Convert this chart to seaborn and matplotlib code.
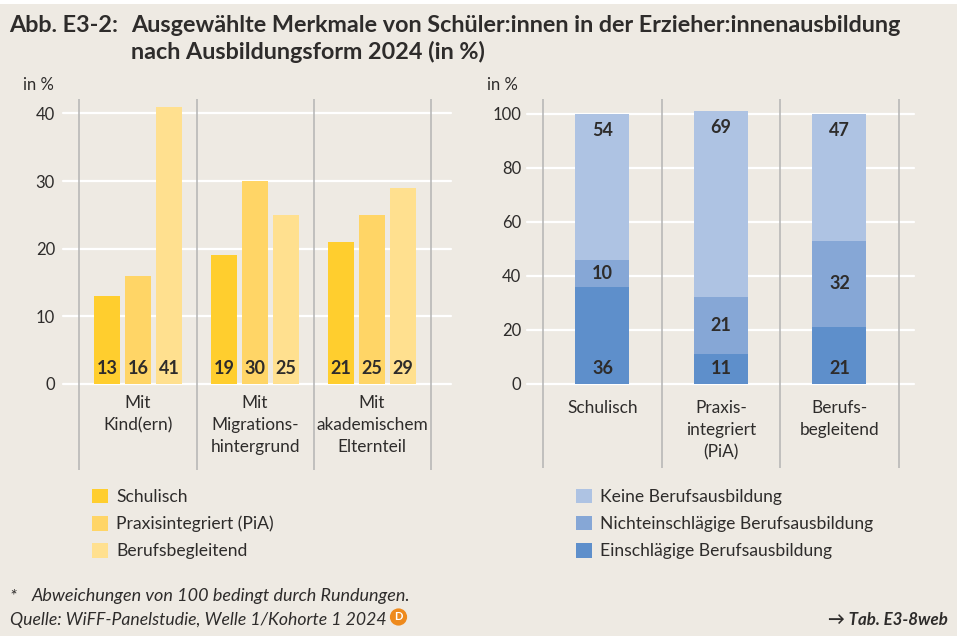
import pandas as pd
import seaborn as sns
import matplotlib.pyplot as plt
from matplotlib.patches import Patch, Rectangle

# left chart
left_groups = ["Mit\nKind(ern)", "Mit\nMigrations-\nhintergrund", "Mit\nakademischem\nElternteil"]
left_forms = ["Schulisch", "Praxisintegriert (PiA)", "Berufsbegleitend"]
schulisch = [13, 19, 21]
praxis = [16, 30, 25]
berufsbegl = [41, 25, 29]
left_colors = ["#FFCE2E", "#FFD566", "#FFE08F"]

# right chart
right_groups = ["Schulisch", "Praxis-\nintegriert\n(PiA)", "Berufs-\nbegleitend"]
right_forms = ["Keine Berufsausbildung", "Nichteinschlägige Berufsausbildung", "Einschlägige Berufsausbildung"]
keine = [54, 69, 47]
nicht = [10, 21, 32]
einschl = [36, 11, 21]
right_colors = ["#AEC3E3", "#86A7D6", "#5E8FCB"]

W, H = 957, 636
BG = "#EEEAE3"
TXT = "#2E2C2B"
VLINE = "#B4B4B4"
FONT = "Lato"

sns.set_theme(style="white")
plt.rcParams["font.family"] = [FONT, "DejaVu Sans"]


def px_axes(fig, x0, x1, y0, y1):
    return fig.add_axes([x0 / W, 1 - y1 / H, (x1 - x0) / W, (y1 - y0) / H])


def style_axes(ax, yticks, xpad, ypad, vline_bottom):
    ax.set_facecolor("none")
    for s in ax.spines.values():
        s.set_visible(False)
    ax.set_yticks(yticks)
    ax.set_xlabel("")
    ax.set_ylabel("")
    ax.set_axisbelow(True)
    ax.yaxis.grid(True, color="white", linewidth=1.6)
    ax.xaxis.grid(False)
    for gl in ax.get_ygridlines():
        gl.set_clip_on(False)
    ax.tick_params(axis="y", length=0, labelsize=12, labelcolor=TXT, pad=ypad)
    ax.tick_params(axis="x", length=0, labelsize=12.4, labelcolor=TXT, pad=xpad)
    for lab in ax.get_xticklabels():
        lab.set_linespacing(1.45)
    ax.vlines([-0.5, 0.5, 1.5, 2.5], vline_bottom, ax.get_ylim()[1], color=VLINE, linewidth=1.1,
              zorder=1.5, clip_on=False)


def add_legend(ax, colors, labels, x_px):
    handles = [Patch(facecolor=c, edgecolor="none") for c in colors]
    ax.legend(handles, labels, loc="upper left", frameon=False,
              bbox_to_anchor=(x_px / W, 1 - 488.5 / H), bbox_transform=fig.transFigure,
              fontsize=12.6, labelcolor=TXT, handlelength=0.91, handleheight=0.91,
              handletextpad=0.46, labelspacing=0.62, borderpad=0, borderaxespad=0)


fig = plt.figure(figsize=(W / 100, H / 100), dpi=100, facecolor="white")
fig.add_artist(Rectangle((0, 0), 1, 1 - 4 / H, transform=fig.transFigure, facecolor=BG, edgecolor="none", zorder=-5))

# left: grouped bars
ax1 = px_axes(fig, 63, 451, 99, 384)
df1 = pd.DataFrame({
    "group": left_groups * 3,
    "form": [left_forms[0]] * 3 + [left_forms[1]] * 3 + [left_forms[2]] * 3,
    "value": schulisch + praxis + berufsbegl,
})
sns.barplot(data=df1, x="group", y="value", hue="form", order=left_groups, hue_order=left_forms,
            palette=left_colors, width=0.795, gap=0.16, saturation=1, legend=False, linewidth=0,
            ax=ax1, zorder=2)
ax1.set_xlim(-0.641, 2.675)
ax1.set_ylim(0, 42.13)
style_axes(ax1, [0, 10, 20, 30, 40], 8.2, 5.8, -12.72)
for cont in ax1.containers:
    for bar in cont:
        ax1.annotate(f"{bar.get_height():.0f}", (bar.get_x() + bar.get_width() / 2, 0),
                     xytext=(0, 11.5), textcoords="offset points", ha="center", va="center",
                     fontsize=13, fontweight="bold", color=TXT, zorder=3)
add_legend(ax1, left_colors, left_forms, 92)

# right: stacked bars, back to front
ax2 = px_axes(fig, 527, 914, 99, 384)
layers = [keine, nicht, einschl]
bases = [[a + b for a, b in zip(nicht, einschl)], einschl, [0, 0, 0]]
for vals, base, col in zip(layers, bases, right_colors):
    tops = [v + b for v, b in zip(vals, base)]
    sns.barplot(x=right_groups, y=tops, order=right_groups, color=col, width=0.456,
                saturation=1, linewidth=0, ax=ax2, zorder=2)
ax2.set_xlim(-0.637, 2.629)
ax2.set_ylim(0, 105.4)
style_axes(ax2, [0, 20, 40, 60, 80, 100], 11.7, 4.3, -31)
for i in range(3):
    ax2.annotate(str(keine[i]), (i, keine[i] + bases[0][i]), xytext=(0, -12), textcoords="offset points",
                 ha="center", va="center", fontsize=13, fontweight="bold", color=TXT, zorder=3)
    ax2.annotate(str(nicht[i]), (i, bases[1][i] + nicht[i] / 2), ha="center", va="center",
                 fontsize=13, fontweight="bold", color=TXT, zorder=3)
    ax2.annotate(str(einschl[i]), (i, 0), xytext=(0, 11), textcoords="offset points",
                 ha="center", va="center", fontsize=13, fontweight="bold", color=TXT, zorder=3)
add_legend(ax2, right_colors, right_forms, 576)


def ftext(x, y, s, **kw):
    kw.setdefault("color", TXT)
    kw.setdefault("va", "center")
    return fig.text(x / W, 1 - y / H, s, **kw)


# title
ftext(9, 26, "Abb. E3-2:", fontsize=16.8, fontweight="bold")
ftext(131, 26, "Ausgewählte Merkmale von Schüler:innen in der Erzieher:innenausbildung", fontsize=16.8, fontweight="bold")
ftext(131, 52, "nach Ausbildungsform 2024 (in %)", fontsize=16.8, fontweight="bold")

ftext(23, 85, "in %", fontsize=12)
ftext(487, 85, "in %", fontsize=12)

# footer
ftext(10, 596, "*", fontsize=12.8, style="italic")
ftext(32, 596, "Abweichungen von 100 bedingt durch Rundungen.", fontsize=12.95, style="italic")
ftext(10, 620, "Quelle: WiFF-Panelstudie, Welle 1/Kohorte 1 2024", fontsize=12.7, style="italic")
ftext(398.5, 617, "D", fontsize=8, fontweight="bold", color="white", ha="center",
      bbox=dict(boxstyle="circle,pad=0.28", facecolor="#EE8A1D", edgecolor="none"))
ftext(948, 620, "→ Tab. E3-8web", fontsize=12.2, fontweight="bold", style="italic", ha="right")

fig.savefig("out.png", dpi=100, facecolor="white")
